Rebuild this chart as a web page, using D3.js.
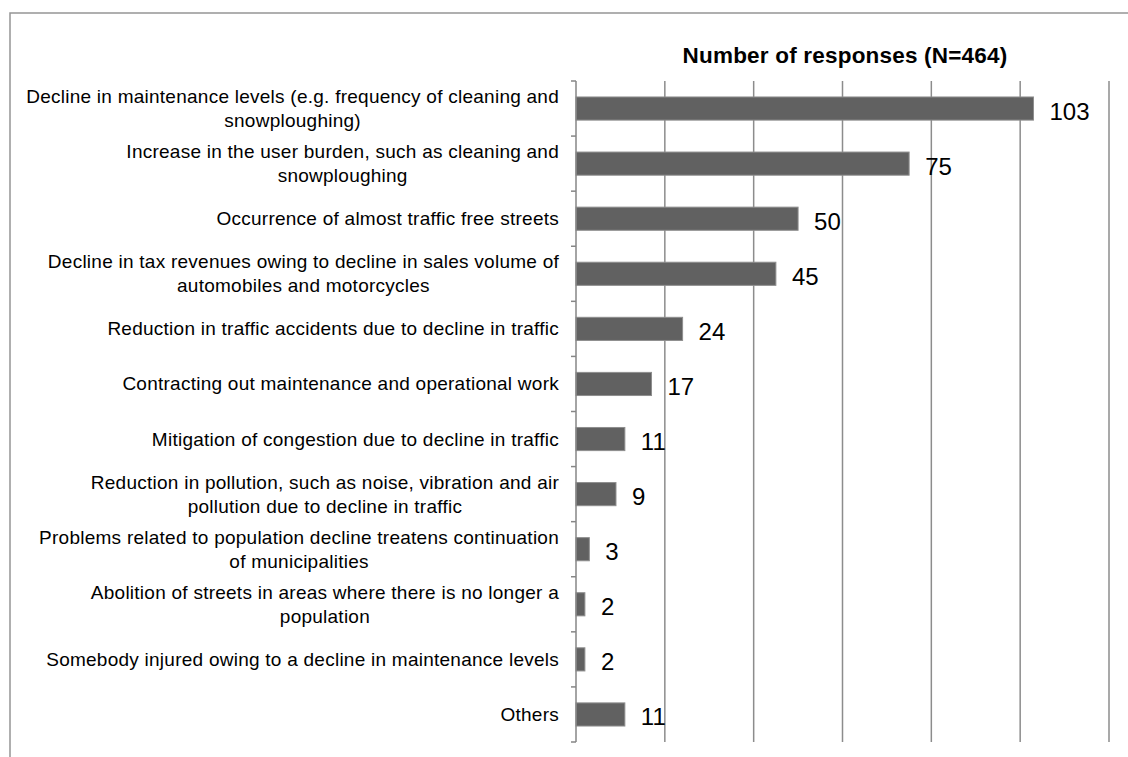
<!DOCTYPE html>
<html><head><meta charset="utf-8">
<script src="https://cdn.jsdelivr.net/npm/d3@7"></script>
<style>html,body{margin:0;padding:0;background:#fff;}svg{display:block;}</style>
</head><body>
<svg id="c" width="1128" height="757"></svg>
<script>
const categories = [
  "Decline in maintenance levels (e.g. frequency of cleaning and\nsnowploughing)",
  "Increase in the user burden, such as cleaning and\nsnowploughing",
  "Occurrence of almost traffic free streets",
  "Decline in tax revenues owing to decline in sales volume of\nautomobiles and motorcycles",
  "Reduction in traffic accidents due to decline in traffic",
  "Contracting out maintenance and operational work",
  "Mitigation of congestion due to decline in traffic",
  "Reduction in pollution, such as noise, vibration and air\npollution due to decline in traffic",
  "Problems related to population decline treatens continuation\nof municipalities",
  "Abolition of streets in areas where there is no longer a\npopulation",
  "Somebody injured owing to a decline in maintenance levels",
  "Others"
];
const values = [103, 75, 50, 45, 24, 17, 11, 9, 3, 2, 2, 11];
const xTicks = [0, 20, 40, 60, 80, 100, 120];
const title = "Number of responses (N=464)";

const svg = d3.select("#c");
const font = "'Liberation Sans', Arial, sans-serif";

// outer border
svg.append("rect").attr("x", 10).attr("y", 13).attr("width", 1200).attr("height", 800)
  .attr("fill", "none").attr("stroke", "#959595").attr("stroke-width", 1.5);

const x0 = 576, x1 = 1109, y0 = 81, y1 = 742;
const x = d3.scaleLinear().domain([0, 120]).range([x0, x1]);
const y = d3.scaleBand().domain(categories).range([y0, y1]).paddingInner(0.58).paddingOuter(0.29);
const band = d3.scaleBand().domain(categories).range([y0, y1]);

// gridlines
svg.append("g").selectAll("line").data(xTicks.slice(1)).join("line")
  .attr("x1", d => x(d)).attr("x2", d => x(d)).attr("y1", y0).attr("y2", y1)
  .attr("stroke", "#8c8c8c").attr("stroke-width", 1.5);

// bars
svg.append("g").selectAll("rect").data(values).join("rect")
  .attr("x", x(0)).attr("y", (d, i) => y(categories[i]))
  .attr("width", d => x(d) - x(0)).attr("height", y.bandwidth())
  .attr("fill", "#616161").attr("stroke", "#8e8e8e").attr("stroke-width", 1);

// y axis line + ticks
const ax = svg.append("g");
ax.append("line").attr("x1", x0).attr("x2", x0).attr("y1", y0).attr("y2", y1)
  .attr("stroke", "#868686").attr("stroke-width", 1.5);
const bounds = categories.map(c => band(c)).concat([y1]);
ax.selectAll("line.t").data(bounds).join("line").attr("class", "t")
  .attr("x1", x0 - 5).attr("x2", x0).attr("y1", d => d).attr("y2", d => d)
  .attr("stroke", "#868686").attr("stroke-width", 1.5);

// category labels
const lh = 24;
categories.forEach((c, i) => {
  const lines = c.split("\n");
  const cy = band(c) + band.bandwidth() / 2;
  const g = svg.append("g");
  const texts = lines.map((l, j) => g.append("text").text(l)
    .attr("font-family", font).attr("font-size", 19).attr("letter-spacing", 0.25).attr("fill", "#000")
    .attr("text-anchor", "middle")
    .attr("y", cy + (j - (lines.length - 1) / 2) * lh + 6.5));
  const maxW = d3.max(texts, t => t.node().getComputedTextLength());
  texts.forEach(t => t.attr("x", 559 - maxW / 2));
});

// value labels
svg.append("g").selectAll("text").data(values).join("text")
  .attr("x", d => x(d) + 16)
  .attr("y", (d, i) => y(categories[i]) + y.bandwidth() / 2 + 11)
  .attr("font-family", font).attr("font-size", 24).attr("fill", "#000")
  .text(d => d);

// title
svg.append("text").attr("x", 845).attr("y", 63).attr("text-anchor", "middle")
  .attr("font-family", font).attr("font-size", 22.5).attr("letter-spacing", 0.2).attr("font-weight", "bold")
  .text(title);
</script>
</body></html>
